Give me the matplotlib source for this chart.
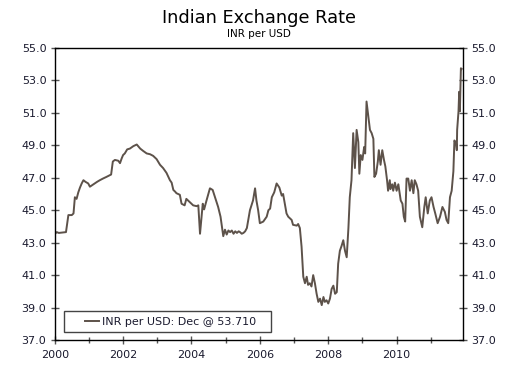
import matplotlib
matplotlib.use("Agg")
import matplotlib.pyplot as plt
from matplotlib.ticker import MultipleLocator, FormatStrFormatter
from matplotlib.patches import Rectangle

# Dates as decimal years, values in INR per USD
dates = [
    2000.01, 2000.06, 2000.12, 2000.2, 2000.33, 2000.4, 2000.5, 2000.55, 2000.59, 2000.64,
    2000.69, 2000.74, 2000.79, 2000.84, 2000.9, 2000.98, 2001.03, 2001.1, 2001.17, 2001.24,
    2001.32, 2001.41, 2001.51, 2001.6, 2001.65, 2001.7, 2001.76, 2001.86, 2001.91, 2001.96,
    2002.0, 2002.05, 2002.12, 2002.2, 2002.3, 2002.4, 2002.5, 2002.59, 2002.69, 2002.79,
    2002.88, 2002.98, 2003.08, 2003.17, 2003.27, 2003.37, 2003.42, 2003.47, 2003.52, 2003.56,
    2003.66, 2003.71, 2003.8, 2003.85, 2003.95, 2004.05, 2004.15, 2004.2, 2004.25, 2004.33,
    2004.37, 2004.44, 2004.54, 2004.62, 2004.69, 2004.78, 2004.85, 2004.93, 2004.98, 2005.03,
    2005.08, 2005.13, 2005.18, 2005.23, 2005.28, 2005.33, 2005.38, 2005.42, 2005.47, 2005.52,
    2005.57, 2005.62, 2005.71, 2005.8, 2005.86, 2005.9, 2005.95, 2006.0, 2006.1, 2006.2,
    2006.25, 2006.3, 2006.35, 2006.42, 2006.49, 2006.57, 2006.64, 2006.68, 2006.73, 2006.78,
    2006.83, 2006.93, 2006.97, 2007.08, 2007.12, 2007.17, 2007.22, 2007.27, 2007.32, 2007.37,
    2007.41, 2007.46, 2007.51, 2007.56, 2007.61, 2007.66, 2007.71, 2007.76, 2007.81, 2007.86,
    2007.9, 2007.95, 2008.0, 2008.05, 2008.1, 2008.15, 2008.2, 2008.25, 2008.29, 2008.34,
    2008.39, 2008.44, 2008.49, 2008.54, 2008.59, 2008.63, 2008.68, 2008.73, 2008.78, 2008.83,
    2008.88, 2008.91, 2008.95, 2009.0, 2009.05, 2009.08, 2009.12, 2009.17, 2009.22, 2009.27,
    2009.32, 2009.35, 2009.4, 2009.45, 2009.48, 2009.53, 2009.58, 2009.63, 2009.67, 2009.72,
    2009.75, 2009.8, 2009.82, 2009.87, 2009.9, 2009.95, 2010.0, 2010.05, 2010.12, 2010.17,
    2010.21, 2010.25, 2010.29, 2010.34, 2010.39, 2010.44, 2010.49, 2010.53, 2010.58, 2010.63,
    2010.68, 2010.75, 2010.81, 2010.85, 2010.91, 2010.97, 2011.02, 2011.08, 2011.13, 2011.2,
    2011.27, 2011.34, 2011.41, 2011.46, 2011.51, 2011.56, 2011.61, 2011.66, 2011.69, 2011.74,
    2011.76, 2011.77, 2011.81, 2011.83, 2011.85, 2011.88, 2011.9,
]
inr_per_usd = [
    43.55, 43.65, 43.6, 43.62, 43.65, 44.7, 44.7, 44.8, 45.8, 45.7,
    46.1, 46.4, 46.65, 46.85, 46.75, 46.65, 46.45, 46.55, 46.65, 46.75,
    46.85, 46.95, 47.05, 47.15, 47.2, 48.0, 48.1, 48.05, 47.9, 48.2,
    48.4, 48.5, 48.75, 48.8, 48.95, 49.05, 48.8, 48.65, 48.5, 48.45,
    48.35, 48.15, 47.8, 47.6, 47.3, 46.85, 46.7, 46.25, 46.15, 46.05,
    45.95, 45.4, 45.3, 45.7, 45.5, 45.3, 45.25, 45.3, 43.55, 45.4,
    45.05, 45.6, 46.35, 46.25, 45.8, 45.2, 44.6, 43.4, 43.8, 43.5,
    43.75, 43.65, 43.75, 43.55, 43.7, 43.6, 43.7, 43.65, 43.55, 43.6,
    43.7, 43.9, 45.0, 45.6, 46.35, 45.6, 45.0, 44.2, 44.3, 44.6,
    45.0, 45.1, 45.8, 46.1, 46.65, 46.4, 45.9, 46.0, 45.4, 44.8,
    44.6, 44.4, 44.1, 44.05, 44.15, 43.9, 42.75, 40.9, 40.5, 40.9,
    40.4, 40.5, 40.3, 41.0, 40.5, 39.85, 39.35, 39.55, 39.15, 39.65,
    39.35, 39.45, 39.25, 39.55, 40.15, 40.35, 39.85, 39.95, 41.7, 42.5,
    42.8, 43.15, 42.5, 42.1, 43.9, 45.8, 46.85, 49.75, 47.6, 49.95,
    49.2, 47.25, 48.4, 48.1, 48.9, 48.5, 51.7, 50.8, 49.95, 49.75,
    49.4, 47.05, 47.25, 48.0, 48.7, 47.8, 48.7, 48.1, 47.7, 46.85,
    46.2, 46.85, 46.3, 46.6, 46.2, 46.7, 46.2, 46.6, 45.6, 45.4,
    44.6, 44.3, 46.95, 46.95, 46.2, 46.85, 46.05, 46.85, 46.6, 46.2,
    44.6, 43.95, 45.2, 45.8, 44.8, 45.6, 45.8, 45.2, 44.8, 44.2,
    44.6, 45.2, 44.9, 44.4, 44.2, 45.8, 46.2, 47.4, 49.3, 49.1,
    48.7, 49.95, 51.1, 52.3, 51.1, 53.75, 53.71,
]

x_ticks = [2000, 2002, 2004, 2006, 2008, 2010]
y_ticks = [37.0, 39.0, 41.0, 43.0, 45.0, 47.0, 49.0, 51.0, 53.0, 55.0]
series_label = "INR per USD: Dec @ 53.710"

line_color = "#5d524a"
text_color = "#1a1a2e"

fig = plt.figure(figsize=(5.18, 3.74), dpi=100)
ax = fig.add_axes([0.1056, 0.0909, 0.7888, 0.7808])

ax.plot(dates, inr_per_usd, color=line_color, linewidth=1.4, label=series_label)

ax.set_xlim(2000, 2011.95)
ax.set_ylim(37, 55)
ax.set_xticks(x_ticks)
ax.set_xticklabels([str(t) for t in x_ticks])
ax.xaxis.set_minor_locator(MultipleLocator(1))
ax.set_yticks(y_ticks)
ax.yaxis.set_major_formatter(FormatStrFormatter("%.1f"))

for s in ["top", "bottom", "left", "right"]:
    ax.spines[s].set_color("black")
    ax.spines[s].set_linewidth(1.0)

ax.tick_params(axis="both", which="major", direction="inout", length=6, width=1,
               color="#555555", labelsize=8, labelcolor=text_color)
ax.tick_params(axis="x", which="minor", direction="inout", length=4, width=1, color="#555555")
ax.tick_params(axis="y", which="major", left=True, right=True, labelleft=True, labelright=True, pad=3)
ax.tick_params(axis="x", which="major", pad=4, top=False)
ax.tick_params(axis="x", which="minor", top=False)

fig.text(0.5, 0.953, "Indian Exchange Rate", ha="center", va="center", fontsize=12.8, color="black")
fig.text(0.5, 0.91, "INR per USD", ha="center", va="center", fontsize=7.5, color="black")

# Legend frame (wider than the legend content, as in the reference)
frame = Rectangle((0.0228, 0.0274), 0.5062, 0.0719, transform=ax.transAxes,
                  facecolor="white", edgecolor="#444444", linewidth=1.0, zorder=4)
ax.add_patch(frame)
leg = ax.legend(loc="center left", bbox_to_anchor=(0.074, 0.0633), fontsize=8, frameon=False,
                handlelength=1.3, handletextpad=0.25, borderpad=0.0, borderaxespad=0.0)
leg.set_zorder(5)
for t in leg.get_texts():
    t.set_color(text_color)

fig.savefig("out.png", dpi=100)
